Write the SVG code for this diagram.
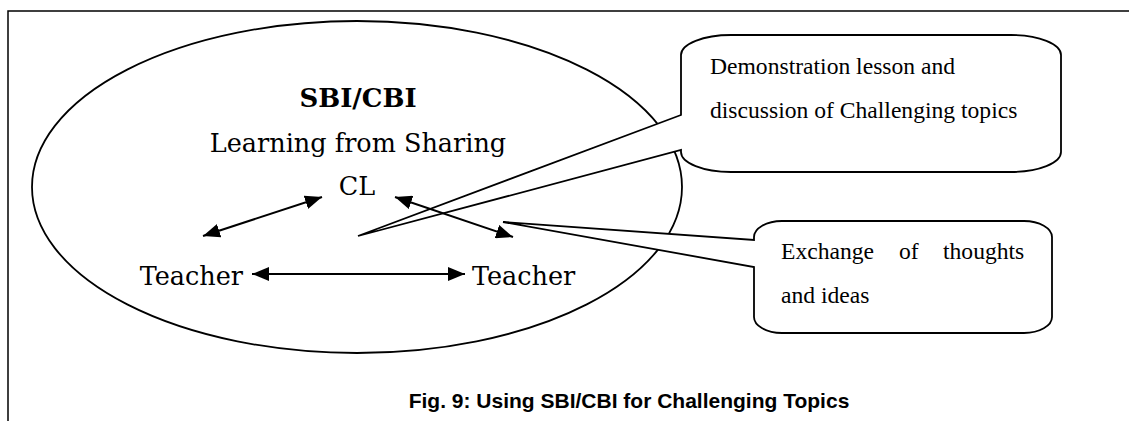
<svg xmlns="http://www.w3.org/2000/svg" width="1129" height="421" viewBox="0 0 1129 421">
  <style>
    .frame { fill: none; stroke: #000; stroke-width: 1.5; }
    .outline { fill: #fff; stroke: #000; stroke-width: 1.8; }
    .main { font-family: "DejaVu Serif", "Liberation Serif", serif; font-size: 25.5px; fill: #000; }
    .title { font-family: "DejaVu Serif", "Liberation Serif", serif; font-size: 26px; font-weight: bold; fill: #000; }
    .note { font-family: "Liberation Serif", "Times New Roman", serif; font-size: 23.6px; fill: #000; }
    .caption { font-family: "Liberation Sans", Arial, sans-serif; font-size: 21px; font-weight: bold; fill: #000; }
    .link { stroke: #000; stroke-width: 2; fill: none; marker-start: url(#head); marker-end: url(#head); }
  </style>
  <defs>
    <marker id="head" markerUnits="userSpaceOnUse" markerWidth="17" markerHeight="14" refX="17" refY="7" orient="auto-start-reverse">
      <path d="M0,0 L17,7 L0,14 Z" fill="#000"/>
    </marker>
  </defs>

  <rect width="1129" height="421" fill="#fff"/>

  <!-- page frame: top and left rules -->
  <path class="frame" d="M8,421 V11 H1129"/>

  <!-- community ellipse -->
  <g id="community">
    <ellipse class="outline" cx="357" cy="187" rx="325" ry="166"/>
  </g>

  <!-- callout: demonstration lesson -->
  <g id="callout-demo">
    <path class="outline" d="M681,115 V55 A50,20 0 0 1 731,35 H1011 A50,20 0 0 1 1061,55 V152 A50,20 0 0 1 1011,172 H731 A50,20 0 0 1 681,152 V150 L358,236 Z"/>
    <text class="note" x="710" y="74">Demonstration lesson and</text>
    <text class="note" x="710" y="118">discussion of Challenging topics</text>
  </g>

  <!-- callout: exchange of thoughts -->
  <g id="callout-exchange">
    <path class="outline" d="M754,240 V237 A28,16 0 0 1 782,221 H1024 A28,16 0 0 1 1052,237 V317 A28,16 0 0 1 1024,333 H782 A28,16 0 0 1 754,317 V267 L503,222 Z"/>
    <text class="note" y="259"><tspan x="781">Exchange</tspan><tspan x="899">of</tspan><tspan x="943">thoughts</tspan></text>
    <text class="note" x="781" y="303">and ideas</text>
  </g>

  <!-- connectors between teachers and CL -->
  <g id="connectors">
    <line class="link" x1="203" y1="236" x2="322" y2="197"/>
    <line class="link" x1="395" y1="197" x2="513" y2="237"/>
    <line class="link" x1="252" y1="274" x2="465" y2="274"/>
  </g>

  <g id="heading">
    <text class="title" x="358" y="107" text-anchor="middle">SBI/CBI</text>
    <text class="main" x="358" y="152" text-anchor="middle">Learning from Sharing</text>
  </g>

  <g id="cl">
    <text class="main" x="357" y="195" text-anchor="middle">CL</text>
  </g>

  <g id="teacher-left">
    <text class="main" x="243" y="285" text-anchor="end">Teacher</text>
  </g>

  <g id="teacher-right">
    <text class="main" x="472" y="285">Teacher</text>
  </g>

  <text class="caption" x="629" y="408" text-anchor="middle">Fig. 9: Using SBI/CBI for Challenging Topics</text>
</svg>
